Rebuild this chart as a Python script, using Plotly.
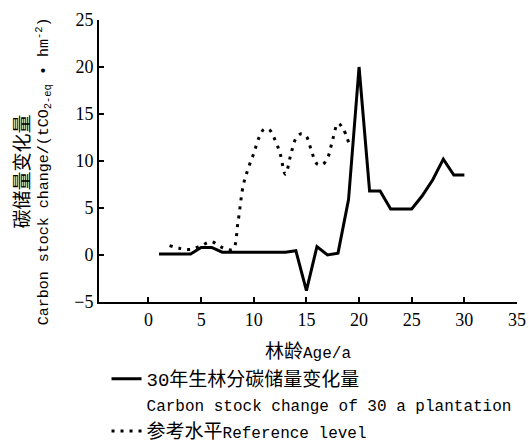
import plotly.graph_objects as go

# Solid series: carbon stock change of 30 a plantation
age = list(range(1, 31))
stock_change = [0.1, 0.1, 0.1, 0.1, 0.8, 0.8, 0.3, 0.3, 0.3, 0.3, 0.3, 0.3, 0.3, 0.45,
                -3.8, 0.9, 0.0, 0.2, 5.9, 20.0, 6.8, 6.8, 4.9, 4.9, 4.9, 6.3, 8.0, 10.2, 8.5, 8.5]

# Dotted series: reference level
ref_age = [2, 3, 4, 5, 6, 7, 8, 8.5, 9, 9.5, 10, 10.5, 11, 11.5, 12, 12.5, 13, 13.5,
           14, 14.5, 15, 15.5, 16, 16.5, 17, 17.5, 18, 18.5, 19]
ref_level = [1.0, 0.7, 0.6, 1.0, 1.4, 0.8, 0.6, 3.5, 7.4, 9.3, 10.8, 12.5, 13.4, 13.3,
             12.3, 10.8, 8.6, 10.6, 12.4, 12.9, 12.6, 11.0, 9.7, 9.6, 10.3, 12.3, 14.0, 13.4, 12.0]

x_ticks = [0, 5, 10, 15, 20, 25, 30, 35]
y_ticks = [-5, 0, 5, 10, 15, 20, 25]

MONO = "Liberation Mono, Noto Sans CJK SC, monospace"
SERIF = "Liberation Serif, serif"

def sz(s, size):
    return f'<span style="font-size:{size}px">{s}</span>'

fig = go.Figure()
fig.add_trace(go.Scatter(
    x=age, y=stock_change, mode="lines",
    line=dict(color="black", width=3),
    name=sz("30年生林分碳储量变化量", 19) + "<br>" + sz("Carbon stock change of 30 a plantation", 16),
))
fig.add_trace(go.Scatter(
    x=ref_age, y=ref_level, mode="lines",
    line=dict(color="black", width=3, dash="3px,6px", shape="spline"),
    name=sz("参考水平", 19) + sz("Reference level", 16),
))

fig.update_layout(
    width=529, height=442,
    margin=dict(l=99, r=12, t=20, b=140, autoexpand=False),
    paper_bgcolor="white", plot_bgcolor="white",
    showlegend=True,
    legend=dict(
        orientation="v", x=0.018, y=-0.205, xanchor="left", yanchor="top",
        font=dict(family=MONO, size=19, color="black"),
        valign="top", tracegroupgap=2, bgcolor="rgba(0,0,0,0)",
    ),
    font=dict(family=MONO, size=16, color="black"),
    annotations=[dict(
        text=sz("碳储量变化量", 19) + "<br>Carbon stock change/(tCO<sub>2-eq</sub> • hm<sup>-2</sup>)",
        xref="paper", yref="paper", x=0, y=0.465, xanchor="right", yanchor="middle",
        xshift=-42, textangle=-90, showarrow=False,
        font=dict(family=MONO, size=15, color="black"),
    )],
)
fig.update_xaxes(
    range=[-4.7, 35], tickvals=x_ticks, ticks="inside", ticklen=5, tickwidth=2,
    tickcolor="black", showline=True, linecolor="black", linewidth=2,
    showgrid=False, zeroline=False,
    tickfont=dict(family=SERIF, size=18, color="black"),
    title=dict(text=sz("林龄", 19) + "Age/a", font=dict(family=MONO, size=16, color="black"), standoff=18),
)
fig.update_yaxes(
    range=[-5, 25], tickvals=y_ticks, ticks="inside", ticklen=5, tickwidth=2,
    tickcolor="black", showline=True, linecolor="black", linewidth=2,
    showgrid=False, zeroline=False,
    tickfont=dict(family=SERIF, size=18, color="black"),
)

fig.write_html("out.html")
